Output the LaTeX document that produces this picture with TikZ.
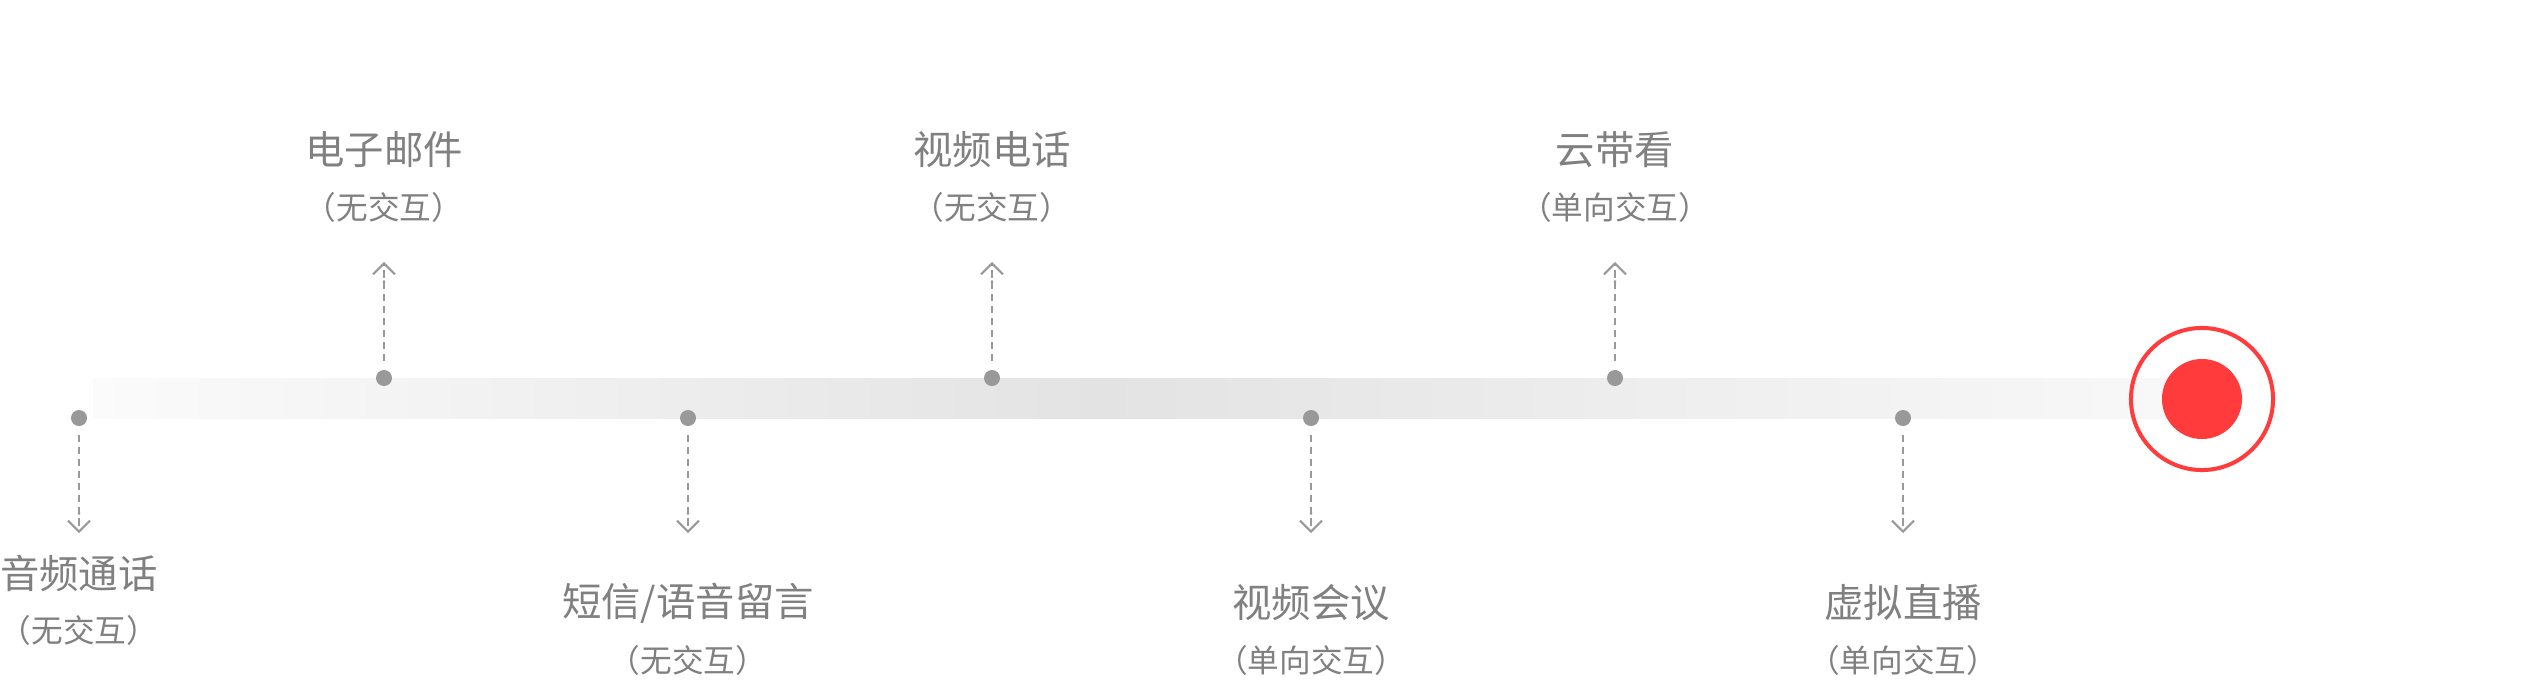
\documentclass[tikz,border=0pt]{standalone}
\usepackage{fontspec}
\usepackage{tikz}
\usetikzlibrary{arrows.meta,positioning}
\newfontfamily\cjk{Noto Sans CJK SC}
\definecolor{dotGray}{HTML}{999999}
\definecolor{textGray}{HTML}{808080}
\definecolor{barGray}{HTML}{E3E3E3}
\definecolor{barLight}{HTML}{FBFBFB}
\definecolor{barEnd}{HTML}{F8F8F8}
\definecolor{recRed}{HTML}{FF3B3B}

\begin{document}
\begin{tikzpicture}[x=0.01cm, y=0.01cm, node distance=0.57cm,
					dotnode/.style={circle, fill=dotGray, inner sep=0pt, minimum size=0.16cm},
					linkarrow/.style={dotGray, line width=0.6pt, dash pattern=on 2pt off 1.4pt, shorten <=2.3pt,
						-{Butt Cap[sep=1.4pt] Straight Barb[length=3.1pt, width=6.3pt]}},
					titletext/.style={font=\cjk\fontsize{11.2pt}{13pt}\selectfont, text=textGray, inner sep=0pt},
					subtext/.style={font=\cjk\fontsize{9pt}{11pt}\selectfont, text=textGray, inner sep=0pt}]
					\useasboundingbox (0,0) rectangle (2538,684);
					
					% Barra
					\shade[left color=barLight, right color=barGray] (93,266) rectangle (1100,306);
					\shade[left color=barGray, right color=barEnd] (1100,266) rectangle (2170,306);
					
					% Puntos
					\node[dotnode] (p1) at (79,266) {};
					\node[dotnode] (p2) at (384,306) {};
					\node[dotnode] (p3) at (688,266) {};
					\node[dotnode] (p4) at (992,306) {};
					\node[dotnode] (p5) at (1311,266) {};
					\node[dotnode] (p6) at (1615,306) {};
					\node[dotnode] (p7) at (1903,266) {};
					
					% Puntas
					\coordinate (a1) at (79,151);
					\coordinate (a2) at (384,422);
					\coordinate (a3) at (688,151);
					\coordinate (a4) at (992,422);
					\coordinate (a5) at (1311,151);
					\coordinate (a6) at (1615,422);
					\coordinate (a7) at (1903,151);
					
					% Etiquetas
					\node[titletext] (t1) at (79,111) {音频通话};
					\node[subtext, below of=t1] (s1) {（无交互）};
					\node[titletext] (t2) at (384,534) {电子邮件};
					\node[subtext, below of=t2] (s2) {（无交互）};
					\node[titletext] (t3) at (688,81) {短信/语音留言};
					\node[subtext, below of=t3] (s3) {（无交互）};
					\node[titletext] (t4) at (992,534) {视频电话};
					\node[subtext, below of=t4] (s4) {（无交互）};
					\node[titletext] (t5) at (1311,81) {视频会议};
					\node[subtext, below of=t5] (s5) {（单向交互）};
					\node[titletext] (t6) at (1615,534) {云带看};
					\node[subtext, below of=t6] (s6) {（单向交互）};
					\node[titletext] (t7) at (1903,81) {虚拟直播};
					\node[subtext, below of=t7] (s7) {（单向交互）};
					
					% Grabando
					\node[circle, draw=recRed, line width=1.14pt, minimum size=1.42cm, inner sep=0pt] (ring) at (2202,285) {};
					\node[circle, fill=recRed, minimum size=0.8cm, inner sep=0pt] (core) at (ring) {};
					
					% Conexiones
					\draw[linkarrow] (p1) -- (a1);
					\draw[linkarrow] (p2) -- (a2);
					\draw[linkarrow] (p3) -- (a3);
					\draw[linkarrow] (p4) -- (a4);
					\draw[linkarrow] (p5) -- (a5);
					\draw[linkarrow] (p6) -- (a6);
					\draw[linkarrow] (p7) -- (a7);
				\end{tikzpicture}
\end{document}
